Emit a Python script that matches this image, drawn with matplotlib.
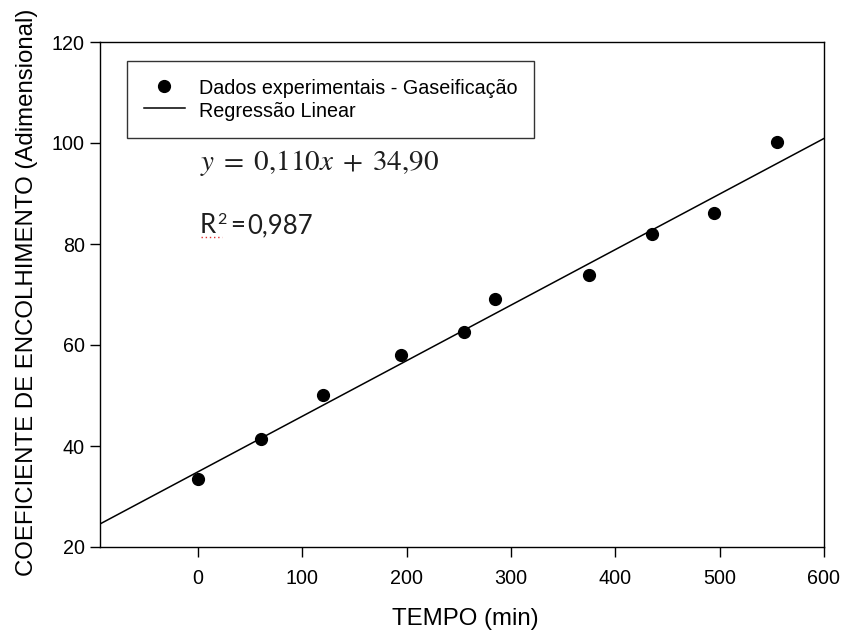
import matplotlib
matplotlib.use("Agg")
import matplotlib.pyplot as plt
from matplotlib.lines import Line2D
import numpy as np

# Shrinkage coefficient measured during gasification
tempo_min = [0, 60, 120, 195, 255, 285, 375, 435, 495, 555]
coef_encolhimento = [33.5, 41.4, 50.1, 58.0, 62.6, 69.1, 73.9, 82.0, 86.1, 100.2]

# Linear fit y = a*x + b
slope = 0.110
intercept = 34.90
r2 = 0.987

x_ticks = [0, 100, 200, 300, 400, 500, 600]
y_ticks = [20, 40, 60, 80, 100, 120]
x_range = (-94, 600)
y_range = (20, 120)

W, H = 844, 632
fig = plt.figure(figsize=(W / 100, H / 100), dpi=100)
ax = fig.add_axes([100 / W, 1 - 547 / H, 724 / W, 505 / H])

sans = ["Liberation Sans", "DejaVu Sans"]
tick_font = {"family": sans, "size": 14.2}

xfit = np.array(x_range, dtype=float)
ax.plot(xfit, slope * xfit + intercept, color="black", lw=1.1,
        label="Regressão Linear", zorder=2)
ax.plot(tempo_min, coef_encolhimento, "o", color="black", ms=8.5,
        label="Dados experimentais - Gaseificação", zorder=3)

ax.set_xlim(*x_range)
ax.set_ylim(*y_range)
ax.set_xticks(x_ticks)
ax.set_yticks(y_ticks)
ax.set_xticklabels([str(v) for v in x_ticks], fontdict=tick_font)
ax.set_yticklabels([str(v) for v in y_ticks], fontdict=tick_font)
ax.tick_params(axis="x", direction="out", length=7, width=1, pad=9,
               top=False)
ax.tick_params(axis="y", direction="out", length=7, width=1, pad=4,
               right=False)
for sp in ax.spines.values():
    sp.set_linewidth(1.0)

fig.text(465 / W, 1 - 625 / H, "TEMPO (min)", ha="center", va="baseline",
         family=sans, size=17.3)
fig.text(33 / W, 1 - 292 / H, "COEFICIENTE DE ENCOLHIMENTO (Adimensional)",
         ha="center", va="baseline", rotation=90, rotation_mode="anchor",
         family=sans, size=17.3)

handles, labels = ax.get_legend_handles_labels()
leg = ax.legend(handles[::-1], labels[::-1], loc="upper left",
                bbox_to_anchor=(27 / 724, 1 - 19 / 505),
                prop={"family": sans, "size": 14.2},
                frameon=True, fancybox=False, edgecolor="black",
                borderpad=0.85, labelspacing=0.08, handleheight=1.19,
                handlelength=2.1, handletextpad=0.7, borderaxespad=0)
leg.get_frame().set_linewidth(1.0)

eq_color = "#1e1e1e"
eq_family = ["Lato", "DejaVu Sans"]

# Fitted equation
fig.text(200 / W, 1 - 170 / H, r"$y\;=\;0{,}110x\;+\;34{,}90$",
         ha="left", va="baseline", size=21, color=eq_color,
         math_fontfamily="stix")

# Coefficient of determination, built piece by piece
renderer = fig.canvas.get_renderer()
r_txt = fig.text(200 / W, 1 - 233 / H, "R", ha="left", va="baseline",
                 family=eq_family, size=18.5, color=eq_color)
x_next = r_txt.get_window_extent(renderer).x1 + 1
sup_txt = fig.text(x_next / W, 1 - 224 / H, "2", ha="left", va="baseline",
                   family=eq_family, size=11.5, color=eq_color)
x_next = sup_txt.get_window_extent(renderer).x1 + 4
eq_txt = fig.text(x_next / W, 1 - 233 / H, "=", ha="left", va="baseline",
                  family=eq_family, size=18.5, color=eq_color)
x_next = eq_txt.get_window_extent(renderer).x1 + 2
fig.text(x_next / W, 1 - 233 / H, f"{r2:.3f}".replace(".", ","),
         ha="left", va="baseline", family=eq_family, size=18.5,
         color=eq_color)
fig.add_artist(Line2D([201 / W, 222 / W], [1 - 237 / H, 1 - 237 / H],
                      transform=fig.transFigure, color="#e03030",
                      lw=1.0, ls=(0, (1, 2))))

fig.savefig("out.png", dpi=100)
